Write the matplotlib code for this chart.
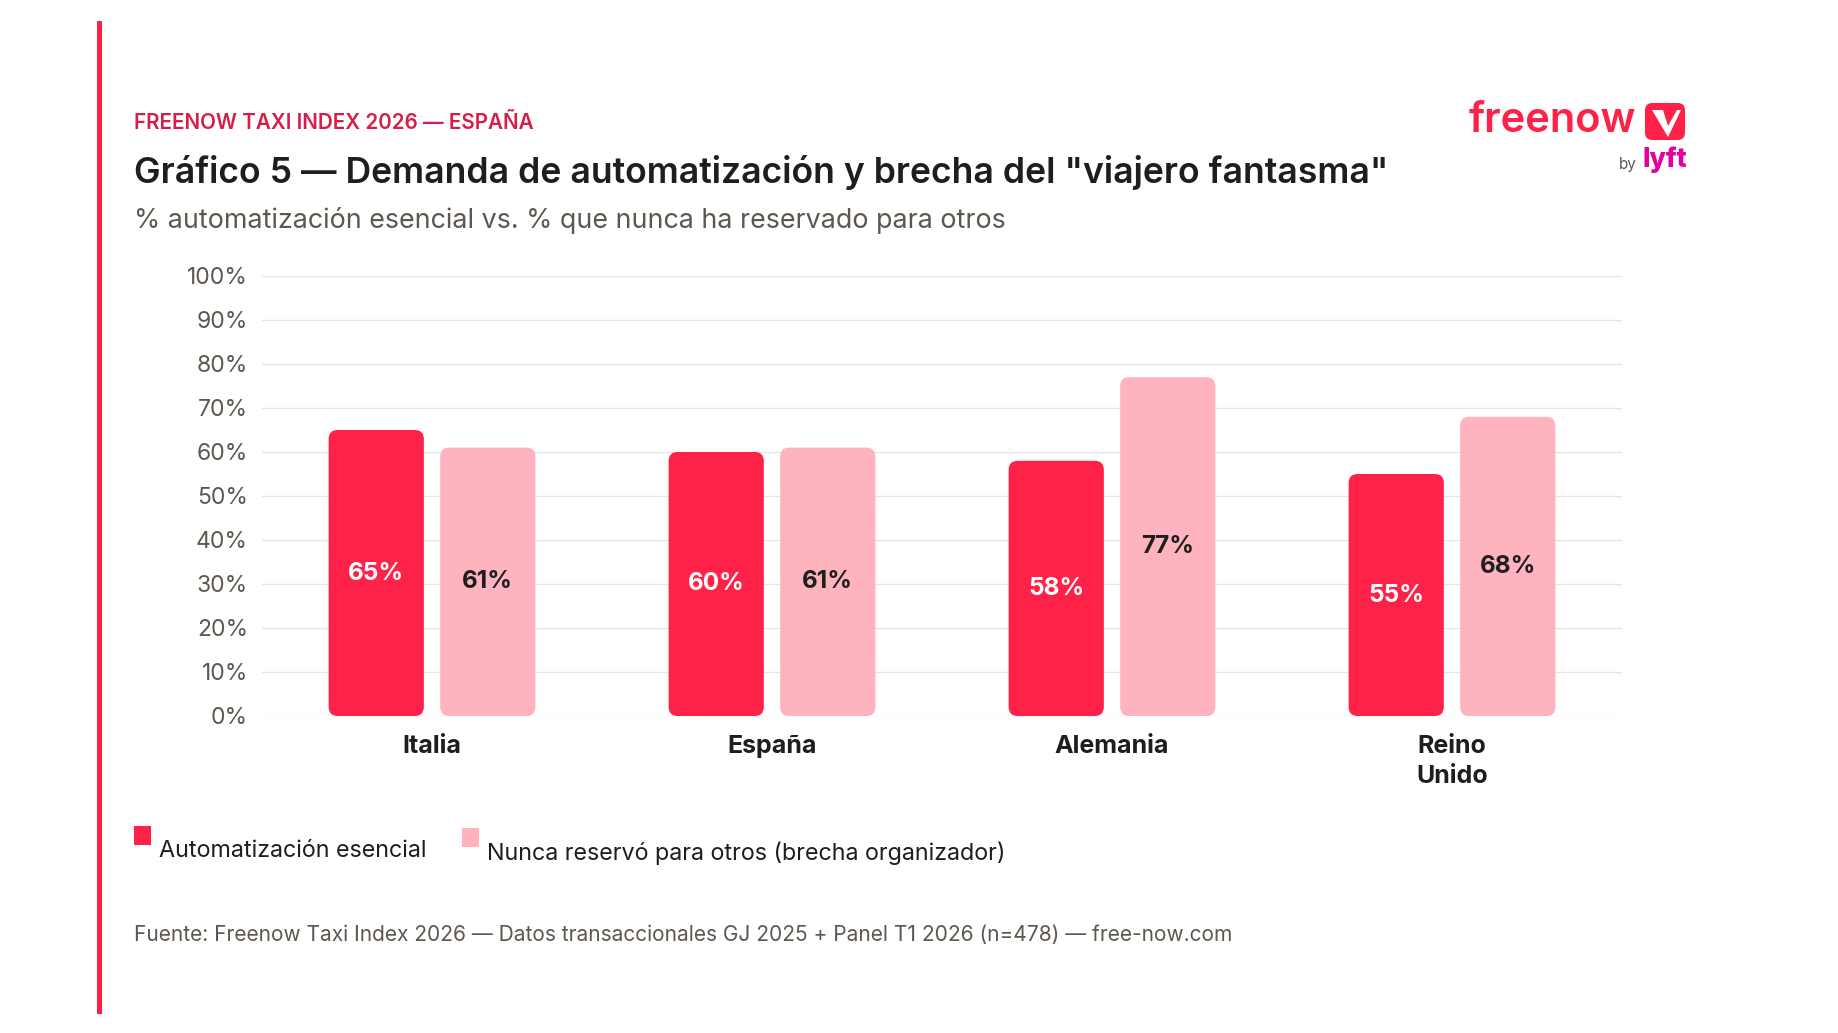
import matplotlib
matplotlib.use("Agg")
import matplotlib.pyplot as plt
from matplotlib.patches import FancyBboxPatch, Rectangle, Polygon
import numpy as np

plt.rcParams['font.family'] = ['Inter', 'DejaVu Sans']

categories = ["Italia", "España", "Alemania", "Reino\nUnido"]
automatizacion = [65, 60, 58, 55]
nunca_reservo = [61, 61, 77, 68]
series_names = ["Automatización esencial", "Nunca reservó para otros (brecha organizador)"]
yticks = [0, 10, 20, 30, 40, 50, 60, 70, 80, 90, 100]

RED = "#FF2248"
PINK = "#FFB3BE"
CRIMSON = "#D81E48"
DARK = "#1E1E1E"
GRAY = "#5E574F"

W, H = 1838, 1033
fig = plt.figure(figsize=(W / 100, H / 100), dpi=100)
fig.patch.set_facecolor("white")

def fx(px):
    return px / W

def fy(py):
    return 1 - py / H

# left accent bar
fig.add_artist(Rectangle((fx(97), fy(1014)), fx(5), (1014 - 21) / H,
                         transform=fig.transFigure, color=RED, lw=0))

# header texts
fig.text(fx(134), fy(123), "FREENOW TAXI INDEX 2026 — ESPAÑA", color=CRIMSON,
         fontsize=14.85, fontweight="semibold", va="center", ha="left")
fig.text(fx(134), fy(173), 'Gráfico 5 — Demanda de automatización y brecha del "viajero fantasma"',
         color=DARK, fontsize=25.6, fontweight="semibold", va="center", ha="left")
fig.text(fx(134), fy(221), "% automatización esencial vs. % que nunca ha reservado para otros",
         color=GRAY, fontsize=19.3, va="center", ha="left")

# axes
left, right, top, bottom = 262, 1622, 276, 716
ax = fig.add_axes([fx(left), fy(bottom), (right - left) / W, (bottom - top) / H])
ax.set_xlim(-0.5, len(categories) - 0.5)
ax.set_ylim(0, 100)
for s in ax.spines.values():
    s.set_visible(False)
ax.set_yticks(yticks)
ax.set_yticklabels([f"{v}%" for v in yticks], color=GRAY, fontsize=16.5)
ax.tick_params(axis="y", length=0, pad=10)
ax.tick_params(axis="x", length=0, pad=14)
ax.grid(axis="y", color="#E6E6E6", lw=1)
ax.set_axisbelow(True)
ax.set_xticks(range(len(categories)))
ax.set_xticklabels(categories, fontsize=18, fontweight="bold", color=DARK, linespacing=1.35)
for lab in ax.get_xticklabels():
    lab.set_va("top")

bw = 0.28
off = 0.164
px_per_x = (right - left) / 4.0
px_per_y = (bottom - top) / 100.0
r = 9 / px_per_x
aspect = px_per_x / px_per_y

x = np.arange(len(categories))
for vals, dx, col, tcol in [(automatizacion, -off, RED, "white"), (nunca_reservo, off, PINK, DARK)]:
    bars = ax.bar(x + dx, vals, width=bw, color=col, alpha=0)
    for b, v in zip(bars, vals):
        p = FancyBboxPatch((b.get_x(), 0), bw, v,
                           boxstyle=f"round,pad=0,rounding_size={r}",
                           mutation_aspect=aspect, fc=col, ec="none", zorder=2)
        ax.add_patch(p)
        ax.text(b.get_x() + bw / 2, v / 2, f"{v}%", ha="center", va="center",
                color=tcol, fontsize=17.5, fontweight="bold", zorder=3)

# legend
fig.add_artist(Rectangle((fx(134), fy(845)), fx(17), 19 / H, transform=fig.transFigure, color=RED, lw=0))
fig.text(fx(159), fy(851), series_names[0], color=DARK, fontsize=16.8, va="center", ha="left")
fig.add_artist(Rectangle((fx(462), fy(847)), fx(17), 19 / H, transform=fig.transFigure, color=PINK, lw=0))
fig.text(fx(487), fy(853), series_names[1], color=DARK, fontsize=16.8, va="center", ha="left")

# footer
fig.text(fx(134), fy(935), "Fuente: Freenow Taxi Index 2026 — Datos transaccionales GJ 2025 + Panel T1 2026 (n=478) — free-now.com",
         color=GRAY, fontsize=15.05, va="center", ha="left")

# logo
fig.text(fx(1636), fy(121), "freenow", color=RED, fontsize=30, fontweight="semibold", ha="right", va="center")
fig.add_artist(FancyBboxPatch((fx(1645), fy(140)), fx(40), 37 / H,
                              boxstyle="round,pad=0,rounding_size=0.004",
                              mutation_aspect=W / H, transform=fig.transFigure,
                              fc=RED, ec="none"))
fig.add_artist(Polygon([(fx(1652), fy(110)), (fx(1663), fy(110)), (fx(1668), fy(126)),
                        (fx(1677), fy(110)), (fx(1681), fy(110)), (fx(1668), fy(137))],
                       closed=True, transform=fig.transFigure, fc="white", ec="none"))
fig.text(fx(1637), fy(164), "by", color=GRAY, fontsize=11, ha="right", va="center")
fig.text(fx(1643), fy(160), "lyft", color="#E4009E", fontsize=19, fontweight="heavy", ha="left", va="center")

fig.savefig("out.png", dpi=100, facecolor="white")
